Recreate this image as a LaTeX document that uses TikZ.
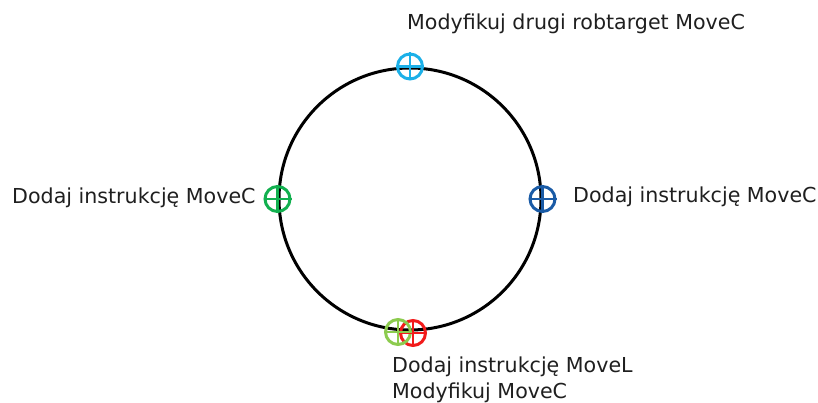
\documentclass[tikz,border=0pt]{standalone}
\usepackage{fontspec}
\setmainfont{DejaVu Sans}
\definecolor{tgtLightBlue}{HTML}{1CB0E8}
\definecolor{tgtDarkBlue}{HTML}{1A5BA6}
\definecolor{tgtGreen}{HTML}{12B04F}
\definecolor{tgtLime}{HTML}{8CCB4E}
\definecolor{tgtRed}{HTML}{F21B1B}
\tikzset{
  ring/.style={circle, draw=black, line width=3pt, minimum size=262pt, inner sep=0pt},
  target/.style={circle, draw=#1, line width=3pt, minimum size=25pt, inner sep=0pt},
  cross/.style={draw=#1, line width=2.8pt},
  label/.style={inner sep=0pt, font=\fontsize{20.6pt}{27pt}\selectfont, text=black!88}
}
\begin{document}
\begin{tikzpicture}[x=1pt,y=-1pt]
  \useasboundingbox (0,0) rectangle (818,403);
  % path circle
  \node[ring] (ring) at (410,199) {};
  % targets on the path
  \node[target=tgtLightBlue] (ttop) at (ring.north) {};
  \node[target=tgtDarkBlue] (tright) at (ring.east) {};
  \node[target=tgtGreen] (tleft) at (ring.west) {};
  \node[target=tgtRed] (tbotr) at (413,333) {};
  \node[target=tgtLime] (tbotl) at (398,332) {};
  \foreach \t/\c in {ttop/tgtLightBlue, tright/tgtDarkBlue, tleft/tgtGreen, tbotr/tgtRed, tbotl/tgtLime}{
    \draw[cross=\c] (\t.north) -- (\t.south) (\t.west) -- (\t.east);
  }
  % labels
  \node[label, anchor=base west] (ltop) at (407,30) {Modyfikuj drugi robtarget MoveC};
  \node[label, anchor=base west] (lright) at (573,203) {Dodaj instrukcję MoveC};
  \node[label, anchor=base west] (lleft) at (12,204) {Dodaj instrukcję MoveC};
  \node[label, anchor=base west] (lbot1) at (392,372) {Dodaj instrukcję MoveL};
  \node[label, anchor=base west] (lbot2) at (392,398) {Modyfikuj MoveC};
\end{tikzpicture}
\end{document}
